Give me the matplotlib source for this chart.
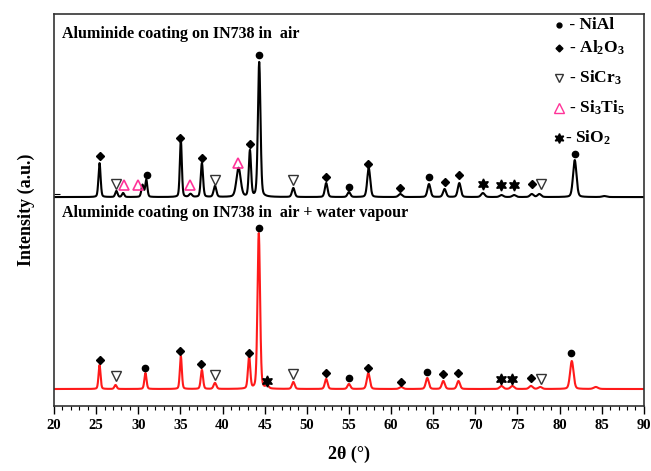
import numpy as np
import matplotlib
matplotlib.use('Agg')
import matplotlib.pyplot as plt

plt.rcParams['font.family'] = ['Liberation Serif', 'DejaVu Serif']
plt.rcParams['font.weight'] = 'bold'
plt.rcParams['mathtext.fontset'] = 'custom'
plt.rcParams['mathtext.rm'] = 'Liberation Serif:bold'
plt.rcParams['mathtext.bf'] = 'Liberation Serif:bold'
plt.rcParams['mathtext.it'] = 'Liberation Serif:bold'

# peaks (2theta, height above baseline, width)
air_pos = [25.4, 27.4, 28.2, 30.5, 30.95, 35.05, 36.2, 37.55, 39.1, 41.9, 43.25, 44.35,
           48.4, 52.3, 55.0, 57.35, 61.1, 64.5, 66.35, 68.1, 70.9, 73.1, 74.6, 76.7,
           77.6, 81.8, 85.3]
air_hgt = [34, 6, 4, 12, 17, 57, 3, 34, 11, 29, 46, 135,
           9, 14, 5, 29, 3, 13, 8, 14, 4, 2, 2, 3,
           3, 37, 1]
air_wid = [0.3, 0.32, 0.32, 0.32, 0.3, 0.28, 0.4, 0.32, 0.38, 0.6, 0.32, 0.36,
           0.38, 0.38, 0.4, 0.42, 0.5, 0.42, 0.42, 0.42, 0.5, 0.5, 0.5, 0.5,
           0.5, 0.48, 0.6]
air_base = 209

wet_pos = [25.4, 27.3, 30.85, 35.05, 37.55, 39.1, 43.15, 44.3, 45.3, 48.4, 52.3, 55.0,
           57.3, 61.2, 64.3, 66.2, 68.0, 73.1, 74.4, 76.6, 77.7, 81.45, 84.3]
wet_hgt = [24, 4, 16, 33, 19, 6, 33, 156, 3, 7, 10, 5,
           16, 2, 11, 8, 8, 3, 3, 3, 2, 28, 2]
wet_wid = [0.28, 0.32, 0.3, 0.28, 0.32, 0.38, 0.32, 0.36, 0.4, 0.38, 0.38, 0.4,
           0.42, 0.5, 0.42, 0.42, 0.42, 0.5, 0.5, 0.5, 0.5, 0.48, 0.6]
wet_base = 17

# phase markers: (2theta, y)
air_nial = ([30.98, 44.3, 55.0, 64.5, 81.8], [231, 351, 219, 229, 252])
air_al2o3 = ([25.4, 35.0, 37.55, 43.25, 52.3, 57.3, 61.1, 66.35, 68.1, 76.77],
             [250, 268, 248, 262, 229, 242, 218, 224, 231, 222])
air_sicr3 = ([27.3, 39.1, 48.4, 77.76], [222, 226, 226, 222])
air_si3ti5 = ([28.3, 30.0, 36.1, 41.85], [221, 221, 221, 243])
air_sio2 = ([70.9, 73.1, 74.6], [222, 221, 221])

wet_nial = ([30.8, 44.3, 55.0, 64.3, 81.4], [38, 178, 28, 34, 53])
wet_al2o3 = ([25.4, 35.0, 37.5, 43.1, 52.3, 57.3, 61.2, 66.2, 68.0, 76.6],
             [46, 55, 42, 53, 33, 38, 24, 32, 33, 28])
wet_sicr3 = ([27.3, 39.1, 48.4, 77.76], [30, 31, 32, 27])
wet_sio2 = ([45.3, 73.1, 74.4], [25, 27, 27])


def pattern(x, pos, hgt, wid, base):
    y = np.full_like(x, float(base))
    for p, h, w in zip(pos, hgt, wid):
        g = np.exp(-4 * np.log(2) * ((x - p) / w) ** 2)
        l = 1 / (1 + 4 * ((x - p) / w) ** 2)
        y += h * (0.75 * g + 0.25 * l)
    return y


x = np.linspace(20, 90, 4001)
y_air = pattern(x, air_pos, air_hgt, air_wid, air_base)
y_wet = pattern(x, wet_pos, wet_hgt, wet_wid, wet_base)

fig = plt.figure(figsize=(6.51, 4.71), dpi=100)
ax = fig.add_axes([0.083, 0.138, 0.906, 0.832])

ax.plot(x, y_air, color='black', lw=1.5)
ax.plot(x, y_wet, color='#ff1a1a', lw=1.5)

pink = '#ff3399'
for nial, al2o3, sicr3, sio2 in [(air_nial, air_al2o3, air_sicr3, air_sio2),
                                 (wet_nial, wet_al2o3, wet_sicr3, wet_sio2)]:
    ax.plot(*nial, 'o', color='black', ms=4.5, ls='none')
    ax.plot(*al2o3, 'D', color='black', ms=4.5, ls='none')
    ax.plot(*sicr3, 'v', mfc='white', mec='#333333', mew=1.0, ms=7, ls='none')
    ax.plot(*sio2, marker=(6, 1, 0), color='black', ms=8, ls='none')
ax.plot(*air_si3ti5, '^', mfc='none', mec=pink, mew=1.2, ms=7, ls='none')

ax.text(21.0, 372, 'Aluminide coating on IN738 in  air', fontsize=11.5,
        fontweight='bold', va='center')
ax.text(21.0, 193, 'Aluminide coating on IN738 in  air + water vapour', fontsize=11.5,
        fontweight='bold', va='center')

# legend drawn as text
lx_m, lx_t = 79.9, 80.7
leg = [('o', 'black', 'black', 3.5, ' - NiAl', 381),
       ('D', 'black', 'black', 3.5, r' - Al$_2$O$_3$', 358),
       ('v', 'white', '#333333', 6, r' - SiCr$_3$', 328),
       ('^', 'none', pink, 6.5, r' - Si$_3$Ti$_5$', 298),
       ((6, 1, 0), 'black', 'black', 7, r'- SiO$_2$', 268)]
for m, fc, ec, ms, lab, ly in leg:
    ax.plot([lx_m], [ly], marker=m, mfc=fc, mec=ec, ms=ms, ls='none')
    ax.text(lx_t, ly, lab, fontsize=12.5, fontweight='bold', va='center')

ax.set_xlim(20, 90)
ax.set_ylim(0, 392)
ax.set_xticks(np.arange(20, 91, 5))
ax.set_xticks(np.arange(20, 91, 1), minor=True)
ax.set_yticks([212])
ax.set_yticklabels([])
ax.tick_params(axis='y', direction='in', length=4)
ax.tick_params(axis='x', which='major', direction='out', length=6, width=1, labelsize=10.5)
ax.tick_params(axis='x', which='minor', direction='out', length=3, width=0.8)
for lab in ax.get_xticklabels():
    lab.set_fontweight('bold')
for s in ax.spines.values():
    s.set_linewidth(1.2)
    s.set_color('#333333')

ax.set_xlabel('2θ (°)', fontsize=13, fontweight='bold', labelpad=10)
ax.set_ylabel('Intensity (a.u.)', fontsize=13, fontweight='bold', labelpad=10)

fig.savefig('out.png', dpi=100)
